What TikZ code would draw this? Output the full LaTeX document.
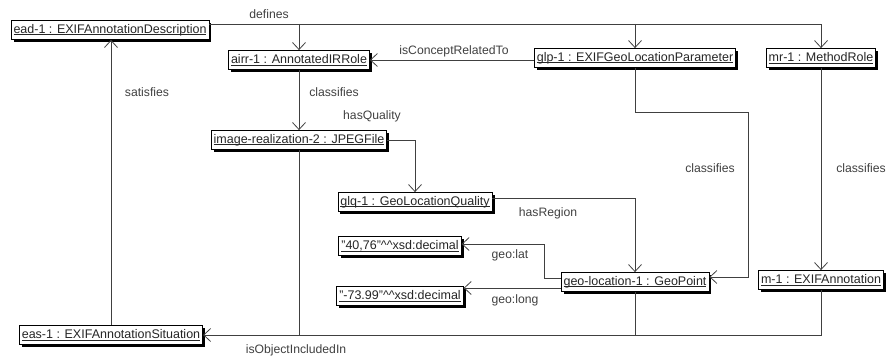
\documentclass[tikz,border=0pt]{standalone}
\usepackage{fontspec}
\setmainfont{Liberation Sans}
\usetikzlibrary{positioning, shadows, arrows.meta}
\tikzset{
	labeltext/.style={font=\fontsize{12.2}{14}\selectfont, text=black!75}
}
\newcommand{\objlabel}[1]{\setbox0\hbox{#1}\rlap{\rule[-1.6pt]{\wd0}{0.55pt}}\box0}
\begin{document}
\begin{tikzpicture}[x=1pt,y=-1pt]

\tikzset{
    objnode/.style={
        shape=rectangle,
        draw=black,
        line width=0.8pt,
        fill=white,
        text=black!85,
        font=\fontsize{12.5}{14}\selectfont,
        minimum height=19pt,
        inner xsep=2.5pt,
        inner ysep=0pt,
        drop shadow={shadow xshift=2.5pt, shadow yshift=-2.5pt, fill=black, opacity=1}
    },
    assoc/.style={
        draw=black!75,
        line width=0.8pt,
        -{Straight Barb[length=7pt,width=13pt]}
    },
    plainline/.style={
        draw=black!75,
        line width=0.8pt
    }
}

\useasboundingbox (0,0) rectangle (888,358);

\node[objnode] (ead) at (110,30) {\objlabel{ead-1 : EXIFAnnotationDescription}};
\node[objnode] (airr) at (299,60) {\objlabel{airr-1 : AnnotatedIRRole}};
\node[objnode] (glp) at (635,58) {\objlabel{glp-1 : EXIFGeoLocationParameter}};
\node[objnode] (mr) at (821,58) {\objlabel{mr-1 : MethodRole}};
\node[objnode] (imr) at (299,140) {\objlabel{image-realization-2 : JPEGFile}};
\node[objnode] (glq) at (415,202) {\objlabel{glq-1 : GeoLocationQuality}};
\node[objnode] (lat) at (400,246) {\objlabel{"40,76"\textasciicircum\textasciicircum xsd:decimal}};
\node[objnode] (long) at (400,296) {\objlabel{"-73.99"\textasciicircum\textasciicircum xsd:decimal}};
\node[objnode] (geo) at (635,282) {\objlabel{geo-location-1 : GeoPoint}};
\node[objnode] (mone) at (821,280) {\objlabel{m-1 : EXIFAnnotation}};
\node[objnode] (eas) at (111,335) {\objlabel{eas-1 : EXIFAnnotationSituation}};

\coordinate (dfn) at ([yshift=6pt]ead.east);
\coordinate (cls) at (748,112);

\draw[assoc] (dfn) -| (mr.north);
\draw[assoc] (dfn -| airr.north) -- (airr.north);
\draw[assoc] (dfn -| glp.north) -- (glp.north);
\draw[assoc] (glp.west |- airr.east) -- (airr.east);
\draw[assoc] (airr) -- (imr);
\draw[assoc] (imr.east) -| (glq.north);
\draw[assoc] (eas.north) -- (eas.north |- ead.south);
\draw[assoc] ([yshift=4pt]glq.east) -| (geo.north);
\draw[assoc] ([yshift=4pt]geo.west) -- ++(-16,0) |- ([yshift=2pt]lat.east);
\draw[assoc] ([yshift=-6pt]geo.west) -- ([yshift=-6pt]geo.west -| long.east);
\draw[assoc] (glp.south) |- (cls) |- ([yshift=5pt]geo.east);
\draw[assoc] (mr) -- (mone);
\draw[assoc] (mone.south) |- (eas.east);
\draw[plainline] (imr.south) -- (imr.south |- eas.east);
\draw[plainline] (geo.south) -- (geo.south |- eas.east);

\node[labeltext] at (269,14) {defines};
\node[labeltext] at (454,51) {isConceptRelatedTo};
\node[labeltext] at (334,92) {classifies};
\node[labeltext] at (147,92) {satisfies};
\node[labeltext] at (372,116) {hasQuality};
\node[labeltext] at (548,213) {hasRegion};
\node[labeltext] at (510,255) {geo:lat};
\node[labeltext] at (515,300) {geo:long};
\node[labeltext] at (710,168) {classifies};
\node[labeltext] at (861,168) {classifies};
\node[labeltext] at (296,350) {isObjectIncludedIn};
\end{tikzpicture}
\end{document}
